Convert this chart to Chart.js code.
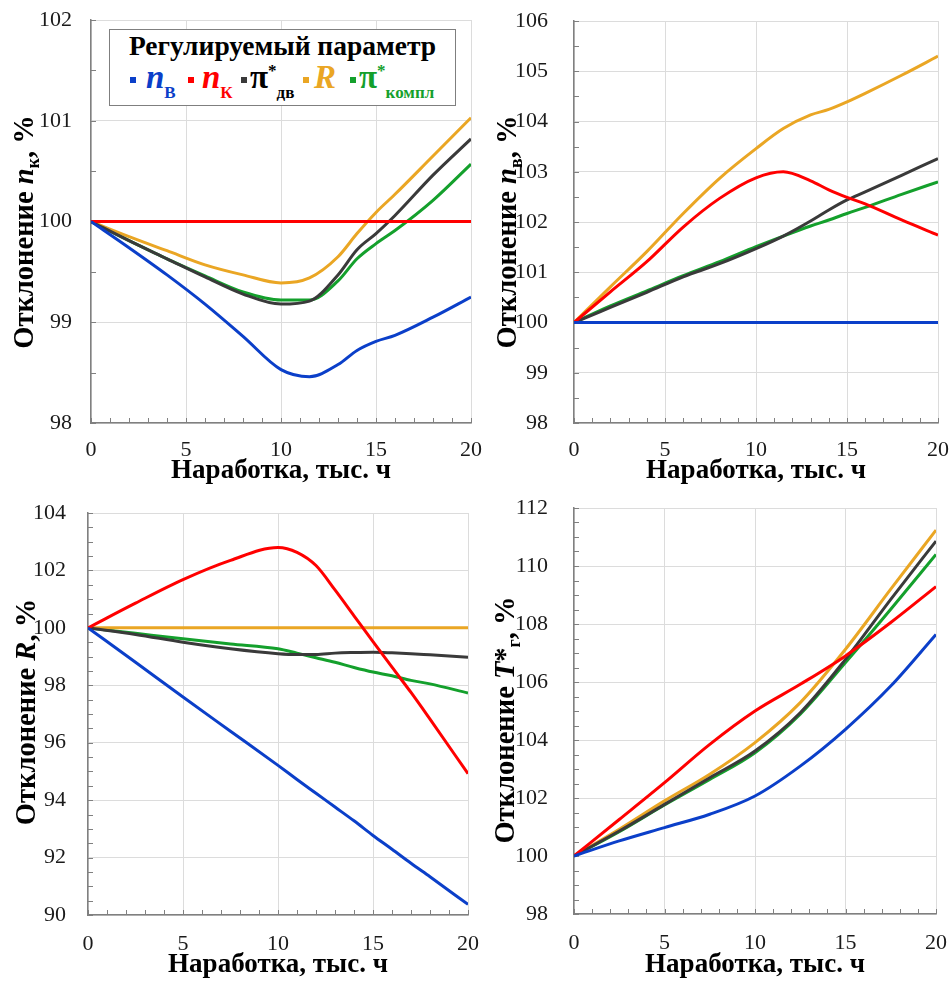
<!DOCTYPE html>
<html>
<head>
<meta charset="utf-8">
<script src="https://cdn.jsdelivr.net/npm/chart.js@4.4.0/dist/chart.umd.min.js"></script>
<style>
  body { margin: 0; background: #fff; }
  #wrap { position: relative; width: 952px; height: 981px; background: #fff; overflow: hidden; }
  canvas { position: absolute; }
  .ytitle {
    position: absolute; width: 320px; height: 40px; line-height: 40px;
    text-align: center; white-space: nowrap; transform: rotate(-90deg);
    font-family: "Liberation Serif", serif; font-weight: bold; font-size: 28.5px; color: #000;
  }
  .ytitle sub { font-size: 18px; vertical-align: -6px; line-height: 0; }
  #legend {
    position: absolute; left: 109px; top: 29px; width: 345px; height: 75px;
    border: 1.5px solid #7f7f7f; background: #fff;
    font-family: "Liberation Serif", serif; font-weight: bold;
  }
  #legend .ttl { position: absolute; left: 0; top: 0; width: 100%; text-align: center; font-size: 27.5px; line-height: 32px; }
  #legend .item { position: absolute; top: 27px; height: 40px; line-height: 40px; white-space: nowrap; font-size: 33px; }
  #legend .sq { display: inline-block; width: 6px; height: 6px; vertical-align: middle; margin-right: 8px; }
  #legend i { font-style: italic; }
  #legend sub { font-size: 17px; vertical-align: -10px; line-height: 0; }
  #legend sup { font-size: 17px; vertical-align: 12px; line-height: 0; }
</style>
</head>
<body>
<div id="wrap">
  <canvas id="c1" width="490" height="490" style="left:0;top:0"></canvas>
  <canvas id="c2" width="476" height="490" style="left:476px;top:0"></canvas>
  <canvas id="c3" width="490" height="491" style="left:0;top:490px"></canvas>
  <canvas id="c4" width="476" height="491" style="left:476px;top:490px"></canvas>

  <div class="ytitle" style="left:-136px;top:212px">Отклонение <i>n</i><sub>к</sub>, %</div>
  <div class="ytitle" style="left:347px;top:212px">Отклонение <i>n</i><sub>в</sub>, %</div>
  <div class="ytitle" style="left:-134px;top:692px">Отклонение <i>R</i>, %</div>
  <div class="ytitle" style="left:345px;top:700px">Отклонение <i>T</i>*<sub>г</sub>, %</div>

  <div id="legend">
    <div class="ttl">Регулируемый параметр</div>
    <div class="item" style="left:20px;color:#0b3fc9"><span class="sq" style="background:#0b3fc9;margin-right:10px"></span><i>n</i><sub>В</sub></div>
    <div class="item" style="left:78px;color:#ff0000"><span class="sq" style="background:#ff0000"></span><i>n</i><sub>К</sub></div>
    <div class="item" style="left:131px;color:#000"><span class="sq" style="background:#3a3a3a;margin-right:3px"></span>π<sup>*</sup><sub>дв</sub></div>
    <div class="item" style="left:193px;color:#eaa624"><span class="sq" style="background:#eaa624;margin-right:5px"></span><i>R</i></div>
    <div class="item" style="left:240px;color:#14a02c"><span class="sq" style="background:#14a02c;margin-right:3px"></span>π<sup>*</sup><sub>компл</sub></div>
  </div>
</div>

<script>
// наработка, тыс. ч
var xTop = [0, 2, 4, 6, 8, 10, 11.5, 13, 14, 15, 16, 18, 20];
var xBL = [0, 2.5, 5, 7.5, 10, 11, 12, 13, 14, 15, 16, 17, 18, 20];
var xBR = [0, 2.5, 5, 7.5, 10, 12.5, 15, 17.5, 20];

// отклонение n_к, %
var nk_nv = [100, 99.74, 99.47, 99.18, 98.86, 98.53, 98.46, 98.58, 98.72, 98.81, 98.87, 99.05, 99.25];
var nk_nk = [100, 100, 100, 100, 100, 100, 100, 100, 100, 100, 100, 100, 100];
var nk_pdv = [100, 99.81, 99.63, 99.45, 99.28, 99.18, 99.21, 99.47, 99.72, 99.88, 100.06, 100.46, 100.82];
var nk_r = [100, 99.85, 99.71, 99.57, 99.47, 99.39, 99.44, 99.65, 99.88, 100.09, 100.27, 100.65, 101.03];
var nk_pk = [100, 99.81, 99.63, 99.46, 99.30, 99.22, 99.22, 99.41, 99.63, 99.78, 99.91, 100.21, 100.57];

// отклонение n_в, %
var nv_nv = [100, 100, 100, 100, 100, 100, 100, 100, 100, 100, 100, 100, 100];
var nv_nk = [100, 100.61, 101.21, 101.90, 102.47, 102.88, 103.00, 102.82, 102.64, 102.49, 102.36, 102.04, 101.74];
var nv_pdv = [100, 100.30, 100.60, 100.91, 101.17, 101.47, 101.72, 102.02, 102.24, 102.44, 102.60, 102.93, 103.26];
var nv_r = [100, 100.71, 101.41, 102.17, 102.87, 103.46, 103.86, 104.13, 104.24, 104.39, 104.56, 104.92, 105.30];
var nv_pk = [100, 100.33, 100.63, 100.93, 101.21, 101.51, 101.72, 101.92, 102.04, 102.17, 102.29, 102.55, 102.80];

// отклонение R, %
var r_nv = [100, 98.80, 97.59, 96.40, 95.21, 94.72, 94.24, 93.76, 93.28, 92.77, 92.29, 91.80, 91.33, 90.37];
var r_nk = [100, 100.86, 101.68, 102.35, 102.80, 102.63, 102.17, 101.32, 100.42, 99.52, 98.63, 97.75, 96.82, 94.92];
var r_pdv = [100, 99.77, 99.50, 99.27, 99.10, 99.07, 99.07, 99.12, 99.14, 99.15, 99.13, 99.10, 99.06, 98.98];
var r_r = [100, 100, 100, 100, 100, 100, 100, 100, 100, 100, 100, 100, 100, 100];
var r_pk = [100, 99.81, 99.62, 99.44, 99.27, 99.12, 98.96, 98.80, 98.62, 98.46, 98.33, 98.17, 98.05, 97.73];

// отклонение T*_г, %
var t_nv = [100, 100.52, 100.98, 101.44, 102.07, 103.10, 104.37, 105.86, 107.64];
var t_nk = [100, 101.26, 102.53, 103.85, 105.00, 105.92, 106.90, 108.05, 109.29];
var t_pdv = [100, 100.86, 101.78, 102.70, 103.62, 104.94, 106.78, 108.85, 110.86];
var t_r = [100, 100.92, 101.90, 102.82, 103.91, 105.29, 107.13, 109.20, 111.24];
var t_pk = [100, 100.84, 101.76, 102.64, 103.56, 104.89, 106.67, 108.51, 110.40];

var seriesColors = ['#0b3fc9', '#ff0000', '#3a3a3a', '#eaa624', '#14a02c'];
var seriesNames = ['n_в', 'n_к', 'π*_дв', 'R', 'π*_компл'];

var minorTicks = {
  id: 'minorTicks',
  beforeDatasetsDraw: function(chart, args, opts) {
    var ctx = chart.ctx, a = chart.chartArea, x = chart.scales.x, y = chart.scales.y;
    ctx.save();
    ctx.strokeStyle = '#808080';
    ctx.lineWidth = 1;
    ctx.beginPath();
    for (var v = x.min; v <= x.max + 1e-9; v += opts.xStep) {
      var px = Math.round(x.getPixelForValue(v)) + 0.5;
      ctx.moveTo(px, a.bottom);
      ctx.lineTo(px, a.bottom - 5);
    }
    for (var w = y.min; w <= y.max + 1e-9; w += opts.yStep) {
      var py = Math.round(y.getPixelForValue(w)) + 0.5;
      ctx.moveTo(a.left, py);
      ctx.lineTo(a.left + 5, py);
    }
    ctx.stroke();
    ctx.restore();
  }
};

function makeChart(id, xs, lists, yMin, yMax, yStep, box) {
  var datasets = lists.map(function(vals, i) {
    return {
      label: seriesNames[i],
      data: xs.map(function(x, k) { return {x: x, y: vals[k]}; }),
      borderColor: seriesColors[i],
      backgroundColor: seriesColors[i],
      borderWidth: 3,
      pointRadius: 0,
      cubicInterpolationMode: 'monotone',
      fill: false
    };
  });
  return new Chart(document.getElementById(id), {
    type: 'line',
    data: {datasets: datasets},
    plugins: [minorTicks],
    options: {
      responsive: false,
      animation: false,
      layout: {padding: {left: 0, right: box.right, top: box.top, bottom: 0}},
      plugins: {
        legend: {display: false},
        tooltip: {enabled: false},
        minorTicks: {xStep: 1, yStep: 0.5}
      },
      scales: {
        x: {
          type: 'linear', min: 0, max: 20,
          afterFit: function(s) { s.height = box.xh; },
          // transparent tick marks only push the labels away from the axis
          grid: {color: '#dcdcdc', lineWidth: 1, drawTicks: true, tickLength: box.xp, tickColor: 'rgba(0,0,0,0)'},
          border: {color: '#808080', width: 1.5},
          ticks: {stepSize: 5, padding: 0, color: '#1a1a1a', font: {family: 'Liberation Serif', size: 22}},
          title: {display: true, text: 'Наработка, тыс. ч', color: '#000',
            font: {family: 'Liberation Serif', size: 27, weight: 'bold'},
            padding: {top: 0, bottom: box.tb}}
        },
        y: {
          min: yMin, max: yMax,
          afterFit: function(s) { s.width = box.yw; },
          grid: {color: '#dcdcdc', lineWidth: 1, drawTicks: true, tickLength: box.yp, tickColor: 'rgba(0,0,0,0)'},
          border: {color: '#808080', width: 1.5},
          ticks: {stepSize: yStep, padding: 0, color: '#1a1a1a', font: {family: 'Liberation Serif', size: 22}}
        }
      }
    }
  });
}

makeChart('c1', xTop, [nk_nv, nk_nk, nk_pdv, nk_r, nk_pk], 98, 102, 1, {right: 19, top: 20, xh: 67, yw: 91, yp: 19, xp: 14, tb: 3});
makeChart('c2', xTop, [nv_nv, nv_nk, nv_pdv, nv_r, nv_pk], 98, 106, 1, {right: 14, top: 21, xh: 67, yw: 98, yp: 26, xp: 14, tb: 3});
makeChart('c3', xBL, [r_nv, r_nk, r_pdv, r_r, r_pk], 90, 104, 2, {right: 22, top: 23, xh: 66, yw: 88, yp: 22, xp: 16, tb: 0});
makeChart('c4', xBR, [t_nv, t_nk, t_pdv, t_r, t_pk], 98, 112, 2, {right: 16, top: 18, xh: 67, yw: 98, yp: 26, xp: 16, tb: 0});
</script>
</body>
</html>
